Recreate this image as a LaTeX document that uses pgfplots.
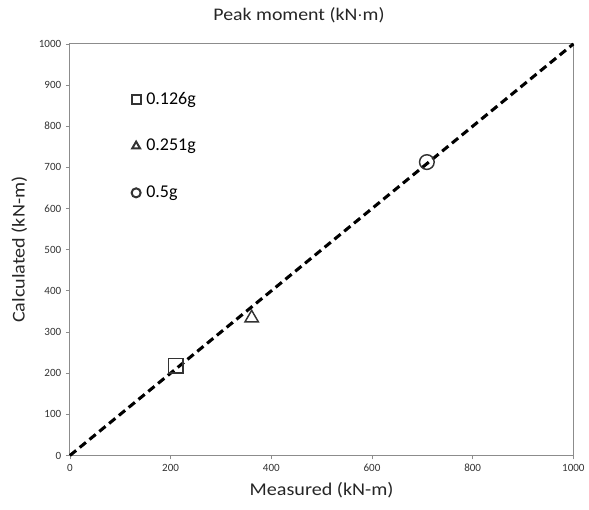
\documentclass[border=0pt]{standalone}
\usepackage{fontspec}
\setmainfont{Carlito}
\newfontfamily\wide[FakeStretch=1.12]{Carlito}
\usepackage{pgfplots}
\pgfplotsset{compat=1.18}
\usetikzlibrary{calc}
\begin{document}
\begin{tikzpicture}
\begin{axis}[
  name=ax,
  scale only axis,
  width=378pt, height=309pt,
  xmin=0, xmax=1000, ymin=0, ymax=1000,
  xtick={0,200,...,1000}, ytick={0,100,...,1000},
  /pgf/number format/assume math mode=true,
  /pgf/number format/1000 sep={},
  tick label style={font=\fontsize{8.3}{9}\selectfont, text=black!80},
  axis line style={black!45, line width=0.8pt},
  tick style={black!45, line width=0.6pt},
  tick align=outside, tickpos=left,
  major tick length=3pt,
  xlabel={Measured (kN-m)}, ylabel={Calculated (kN-m)},
  label style={font=\wide\fontsize{13.5}{15}\selectfont, text=black!85},
  xlabel style={yshift=-1pt}, ylabel style={yshift=2pt},
  legend style={draw=none, fill=none, at={(axis cs:122,890)}, anchor=north west,
    font=\fontsize{13.5}{15}\selectfont, row sep=20.8pt, inner sep=0pt,
    legend cell align=left},
  legend image code/.code={\draw[#1, mark size=3.4pt, line width=1.5pt] plot coordinates {(0.15cm,0cm)};},
  clip=false,
]
\addplot[only marks, mark=square, mark size=5.4pt, black!80, line width=1.1pt] coordinates {(210,218)};
\addlegendentry{\,0.126g}
\addplot[only marks, mark=triangle, mark size=5.8pt, black!80, line width=1.1pt] coordinates {(361,334)};
\addlegendentry{\,0.251g}
\addplot[only marks, mark=o, mark size=5.5pt, black!80, line width=1.1pt] coordinates {(709,713)};
\addlegendentry{\,0.5g}
\addplot[black, line width=2.3pt, dash pattern=on 6pt off 3.5pt, forget plot] coordinates {(0,0) (1000,1000)};
\node[font=\wide\fontsize{13.3}{15}\selectfont, text=black!85] at ($(rel axis cs:0.455,1)+(0,21.75pt)$) {Peak moment (kN$\cdot$m)};
\end{axis}
\path[use as bounding box] ($(ax.south west)+(-52.5pt,-40.5pt)$) rectangle ($(ax.north east)+(11.25pt,33pt)$);
\end{tikzpicture}
\end{document}
